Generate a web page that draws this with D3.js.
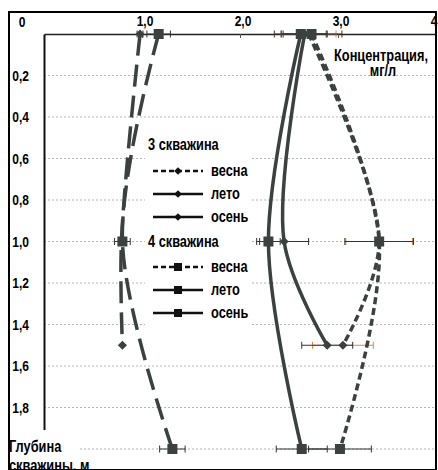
<!DOCTYPE html>
<html>
<head>
<meta charset="utf-8">
<script src="https://cdn.jsdelivr.net/npm/d3@7"></script>
<style>
  html, body { margin: 0; padding: 0; background: #fff; }
  svg { display: block; }
  text { font-family: "Liberation Sans", Arial, sans-serif; font-weight: bold; fill: #000; }
</style>
</head>
<body>
<div id="chart"></div>
<script>
// Depth of sampling points, m
const depthWell3 = [0, 1.0, 1.5];
const depthWell4 = [0, 1.0, 2.0];

// Concentration, mg/l (well 3)
const w3Spring = [2.70, 3.42, 3.05];
const w3SpringErr = [0.28, 0.34, 0.31];
const w3Summer = [2.66, 2.45, 2.89];
const w3SummerErr = [0.22, 0.25, 0.26];
const w3Autumn = [0.98, 0.79, 0.80];
const w3AutumnErr = [0.03, 0.03, 0];

// Concentration, mg/l (well 4)
const w4Spring = [2.73, 3.42, 3.02];
const w4SpringErr = [0.31, 0.35, 0.32];
const w4Summer = [2.62, 2.29, 2.63];
const w4SummerErr = [0.27, 0.12, 0.26];
const w4Autumn = [1.17, 0.80, 1.31];
const w4AutumnErr = [0.12, 0.08, 0.13];

const xTicks = [1, 2, 3, 4];
const yTicks = [0.2, 0.4, 0.6, 0.8, 1.0, 1.2, 1.4, 1.6, 1.8];
const gridDepths = [0.2, 0.4, 0.6, 0.8, 1.0, 1.2, 1.4, 1.6, 1.8, 2.0];
const seasonLabels = ['весна', 'лето', 'осень'];
const wellLabels = ['3 скважина', '4 скважина'];

const W = 438, H = 470;
const ink = '#3b4141';
const narrow = 0.8; // no narrow font installed, squeeze text horizontally
const dashes = { весна: '7,4', лето: null, осень: '22,9' };
const legendDashes = { весна: '5,3', лето: null, осень: null };

const series = [
  { well: 0, season: 'весна', depth: depthWell3, v: w3Spring, err: w3SpringErr, marker: 'diamond', errColor: '#d9874f' },
  { well: 0, season: 'лето', depth: depthWell3, v: w3Summer, err: w3SummerErr, marker: 'diamond', errColor: '#333' },
  { well: 0, season: 'осень', depth: depthWell3, v: w3Autumn, err: w3AutumnErr, marker: 'diamond', errColor: '#333' },
  { well: 1, season: 'весна', depth: depthWell4, v: w4Spring, err: w4SpringErr, marker: 'square', errColor: '#333' },
  { well: 1, season: 'лето', depth: depthWell4, v: w4Summer, err: w4SummerErr, marker: 'square', errColor: '#333' },
  { well: 1, season: 'осень', depth: depthWell4, v: w4Autumn, err: w4AutumnErr, marker: 'square', errColor: '#333' },
];

const fmt = d => d3.format('.1f')(d).replace('.', ',');

const svg = d3.select('#chart').append('svg')
  .attr('width', W).attr('height', H);

const x = d3.scaleLinear().domain([0, 4]).range([44, 436]);
const y = d3.scaleLinear().domain([0, 2]).range([34, 449]);

function label(parent, tx, ty, txt, size, anchor) {
  return parent.append('text')
    .attr('transform', `translate(${tx},${ty}) scale(${narrow},1)`)
    .attr('text-anchor', anchor || 'start')
    .attr('font-size', size)
    .text(txt);
}

// Grid
svg.append('g').selectAll('line')
  .data(gridDepths).enter().append('line')
  .attr('x1', x(0)).attr('x2', x(4))
  .attr('y1', d => y(d)).attr('y2', d => y(d))
  .attr('stroke', '#b5b5b5').attr('stroke-width', 1)
  .attr('stroke-dasharray', '2,2');

// Top axis (labels drawn separately so they can be condensed)
const xAxis = svg.append('g')
  .attr('transform', `translate(0,${y(0)})`)
  .call(d3.axisTop(x).tickValues(xTicks).tickFormat('').tickSize(-4).tickSizeOuter(0));
xAxis.select('.domain').attr('stroke', '#222').attr('stroke-width', 1.5);
xAxis.selectAll('.tick line').attr('stroke', '#555');
xTicks.forEach(t => label(svg, x(t) + 3, 26, fmt(t), 15, 'middle'));

// Left axis
const yAxis = svg.append('g')
  .attr('transform', `translate(${x(0)},0)`)
  .call(d3.axisLeft(y).tickValues(yTicks).tickFormat('').tickSize(0).tickSizeOuter(0));
yAxis.select('.domain').attr('stroke', '#111').attr('stroke-width', 2);
yTicks.forEach(t => label(svg, 29, y(t) + 5, fmt(t), 15, 'end'));
label(svg, 22, 27, '0', 15, 'middle');

// Legend background
const legend = svg.append('g');
legend.append('rect')
  .attr('x', 145).attr('y', 130).attr('width', 105).attr('height', 195)
  .attr('fill', '#fff');

// Error bars
const errG = svg.append('g');
series.forEach(s => {
  s.v.forEach((v, i) => {
    const e = s.err[i];
    if (!e) return;
    const cy = y(s.depth[i]);
    const g = errG.append('g').attr('stroke', s.errColor).attr('stroke-width', 1);
    g.append('line').attr('x1', x(v - e)).attr('x2', x(v + e)).attr('y1', cy).attr('y2', cy);
    [v - e, v + e].forEach(c => g.append('line')
      .attr('x1', x(c)).attr('x2', x(c)).attr('y1', cy - 3.5).attr('y2', cy + 3.5));
  });
});

// Lines
const line = d3.line()
  .x(d => x(d.v)).y(d => y(d.depth))
  .curve(d3.curveCatmullRom.alpha(0.5));

svg.append('g').selectAll('path')
  .data(series).enter().append('path')
  .attr('d', s => line(s.v.map((v, i) => ({ v, depth: s.depth[i] }))))
  .attr('fill', 'none')
  .attr('stroke', ink).attr('stroke-width', 3.5)
  .attr('stroke-dasharray', s => dashes[s.season]);

// Markers
series.forEach(s => {
  svg.append('g').selectAll('path')
    .data(s.v.map((v, i) => ({ v, depth: s.depth[i] })))
    .enter().append('path')
    .attr('d', s.marker === 'square' ? d3.symbol(d3.symbolSquare, 100)() : d3.symbol(d3.symbolSquare, 42)())
    .attr('transform', d => `translate(${x(d.v)},${y(d.depth)})` + (s.marker === 'diamond' ? ' rotate(45)' : ''))
    .attr('fill', ink);
});

// Legend content
const rowY = [145, 171, 194, 217, 242, 267, 290, 313];
wellLabels.forEach((w, wi) => {
  label(legend, 148, rowY[wi * 4] + 5, w, 16);
  seasonLabels.forEach((season, si) => {
    const ry = rowY[wi * 4 + 1 + si];
    legend.append('line')
      .attr('x1', 153).attr('x2', 203).attr('y1', ry).attr('y2', ry)
      .attr('stroke', '#111').attr('stroke-width', 2.5)
      .attr('stroke-dasharray', legendDashes[season]);
    legend.append('path')
      .attr('d', wi === 1 ? d3.symbol(d3.symbolSquare, 64)() : d3.symbol(d3.symbolSquare, 30)())
      .attr('transform', `translate(178,${ry})` + (wi === 0 ? ' rotate(45)' : ''))
      .attr('fill', '#111');
    label(legend, 211, ry + 5, season, 16);
  });
});

// Axis titles
label(svg, 381, 61, 'Концентрация,', 16, 'middle');
label(svg, 383, 76, 'мг/л', 16, 'middle');

svg.append('rect').attr('x', 10).attr('y', 430).attr('width', 70).attr('height', 40)
  .attr('fill', '#fff');
label(svg, 9, 452, 'Глубина', 16);
label(svg, 9, 471, 'скважины, м', 16);

// Frame
svg.append('rect').attr('x', 9).attr('y', 12).attr('width', 427).attr('height', 458)
  .attr('fill', 'none').attr('stroke', '#000').attr('stroke-width', 2);
</script>
</body>
</html>
